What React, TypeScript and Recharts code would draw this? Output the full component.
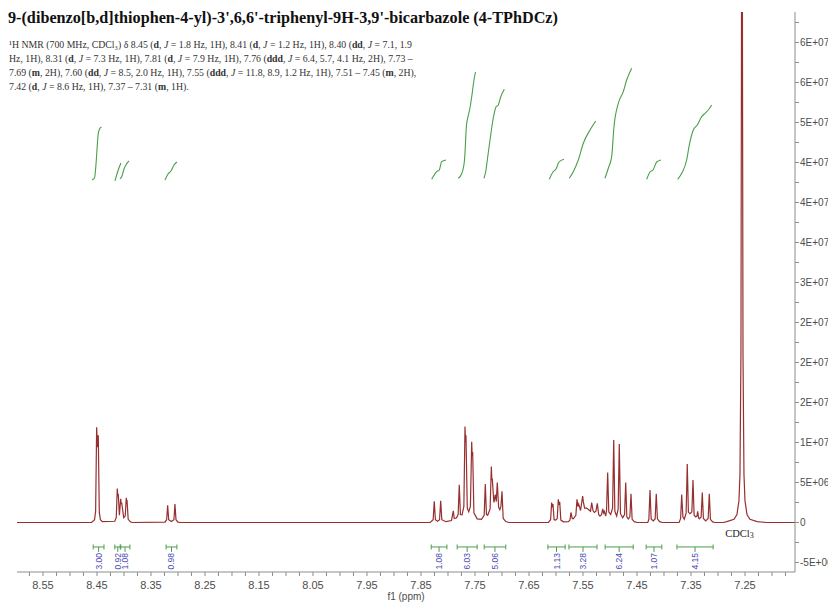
import React from 'react';
import { LineChart, Line, XAxis, YAxis, ReferenceLine, ReferenceDot } from 'recharts';

const TITLE = "9-(dibenzo[b,d]thiophen-4-yl)-3',6,6'-triphenyl-9H-3,9'-bicarbazole (4-TPhDCz)";

const NMR_LINES = [
  '¹H NMR (700 MHz, CDCl₃) δ 8.45 (d, J = 1.8 Hz, 1H), 8.41 (d, J = 1.2 Hz, 1H), 8.40 (dd, J = 7.1, 1.9',
  'Hz, 1H), 8.31 (d, J = 7.3 Hz, 1H), 7.81 (d, J = 7.9 Hz, 1H), 7.76 (ddd, J = 6.4, 5.7, 4.1 Hz, 2H), 7.73 –',
  '7.69 (m, 2H), 7.60 (dd, J = 8.5, 2.0 Hz, 1H), 7.55 (ddd, J = 11.8, 8.9, 1.2 Hz, 1H), 7.51 – 7.45 (m, 2H),',
  '7.42 (d, J = 8.6 Hz, 1H), 7.37 – 7.31 (m, 1H).',
];

const SPECTRUM: [number, number][] = [
  [8.5981, 0],
  [8.46, 0], [8.4545, 0.35e6], [8.4525, 1.4e6], [8.4506, 11.9e6], [8.4491, 9.4e6], [8.4476, 10.9e6],
  [8.4457, 1.3e6], [8.4437, 0.35e6], [8.44, 0.1e6],
  [8.417, 0.15e6], [8.4143, 0.6e6], [8.4124, 4.25e6], [8.4115, 3.3e6], [8.4106, 3.6e6], [8.4085, 0.9e6],
  [8.4061, 2.95e6], [8.4052, 2.3e6], [8.4043, 2.5e6], [8.4005, 0.6e6], [8.3977, 0.8e6], [8.3958, 3.1e6],
  [8.395, 2.5e6], [8.3942, 2.6e6], [8.3922, 0.4e6], [8.388, 0.08e6], [8.385, 0],
  [8.324, 0.05e6], [8.321, 0.35e6], [8.3191, 2.15e6], [8.3172, 0.35e6], [8.3124, 0.12e6], [8.3075, 0.35e6],
  [8.3056, 2.3e6], [8.3037, 0.35e6], [8.3, 0.05e6], [8.295, 0],
  [7.833, 0], [7.8275, 0.35e6], [7.8254, 2.65e6], [7.8233, 0.35e6], [7.8195, 0.15e6], [7.8156, 0.35e6],
  [7.8135, 2.7e6], [7.8114, 0.35e6], [7.804, 0.1e6], [7.7935, 0.25e6], [7.7902, 1.45e6], [7.7884, 0.5e6],
  [7.7845, 0.55e6], [7.7812, 1.0e6], [7.7791, 4.7e6], [7.777, 1.0e6], [7.774, 0.95e6], [7.7706, 2.0e6],
  [7.7685, 12.0e6], [7.7676, 10.0e6], [7.7667, 10.9e6], [7.7643, 1.8e6], [7.7615, 1.35e6], [7.7585, 2.0e6],
  [7.7561, 10.1e6], [7.7552, 8.3e6], [7.7543, 8.8e6], [7.752, 1.2e6], [7.746, 0.45e6], [7.738, 0.4e6],
  [7.733, 0.9e6], [7.7309, 4.8e6], [7.7288, 1.0e6], [7.7265, 0.9e6], [7.722, 1.7e6], [7.7197, 7.0e6],
  [7.7188, 5.3e6], [7.718, 5.5e6], [7.715, 2.5e6], [7.7124, 3.5e6], [7.7106, 2.6e6], [7.7087, 5.0e6],
  [7.7062, 1.9e6], [7.704, 1.6e6], [7.702, 2.0e6], [7.7, 3.9e6], [7.6978, 0.5e6], [7.693, 0.12e6], [7.687, 0],
  [7.614, 0], [7.61, 0.35e6], [7.608, 2.5e6], [7.6068, 1.9e6], [7.6056, 2.3e6], [7.6035, 0.35e6],
  [7.6005, 0.3e6], [7.5977, 0.5e6], [7.5957, 2.9e6], [7.5944, 2.2e6], [7.5931, 2.6e6], [7.591, 0.3e6],
  [7.586, 0.08e6], [7.577, 0.1e6], [7.5742, 0.3e6], [7.5722, 1.25e6], [7.57, 0.5e6], [7.568, 0.45e6],
  [7.5632, 0.9e6], [7.5611, 2.9e6], [7.5595, 2.0e6], [7.558, 2.3e6], [7.5545, 1.5e6], [7.5506, 3.3e6],
  [7.5494, 2.6e6], [7.547, 1.8e6], [7.5432, 1.8e6], [7.536, 1.4e6], [7.5339, 2.5e6], [7.5315, 1.5e6],
  [7.529, 1.25e6], [7.526, 1.4e6], [7.5235, 2.4e6], [7.521, 1.0e6], [7.5185, 0.8e6], [7.5155, 1.0e6],
  [7.5135, 1.7e6], [7.512, 1.2e6], [7.5106, 1.4e6], [7.508, 0.8e6], [7.5064, 1.5e6], [7.5043, 6.25e6],
  [7.5022, 1.3e6], [7.4987, 1.0e6], [7.4952, 1.8e6], [7.4931, 10.3e6], [7.491, 1.4e6], [7.4876, 0.8e6],
  [7.4849, 1.7e6], [7.4828, 9.8e6], [7.4806, 1.1e6], [7.4765, 0.6e6], [7.473, 1.0e6], [7.4709, 5.0e6],
  [7.4688, 0.7e6], [7.4661, 0.45e6], [7.4632, 0.7e6], [7.4611, 3.6e6], [7.459, 0.4e6], [7.455, 0.1e6], [7.45, 0],
  [7.43, 0], [7.428, 0.4e6], [7.4259, 4.05e6], [7.4238, 0.45e6], [7.4198, 0.2e6], [7.4164, 0.45e6],
  [7.4143, 3.6e6], [7.4122, 0.45e6], [7.408, 0.1e6], [7.403, 0],
  [7.372, 0], [7.3692, 0.5e6], [7.3672, 3.5e6], [7.3662, 2.2e6], [7.365, 0.7e6], [7.3624, 0.4e6],
  [7.359, 1.2e6], [7.3569, 7.3e6], [7.3548, 1.3e6], [7.3519, 1.1e6], [7.3484, 1.3e6], [7.3463, 5.3e6],
  [7.3442, 0.9e6], [7.3413, 0.7e6], [7.339, 0.8e6], [7.3376, 1.4e6], [7.336, 0.6e6], [7.3346, 0.45e6],
  [7.3312, 0.7e6], [7.3291, 3.75e6], [7.327, 0.5e6], [7.3228, 0.2e6], [7.3182, 0.5e6], [7.3161, 3.6e6],
  [7.314, 0.4e6], [7.31, 0.08e6], [7.305, 0],
  [7.29, 0], [7.2836, 0.1e6], [7.2704, 0.4e6], [7.2649, 1.0e6], [7.2612, 2.7e6], [7.2593, 6e6],
  [7.2575, 21e6], [7.2565, 60e6], [7.2556, 150e6], [7.2547, 60e6], [7.2537, 21e6], [7.2519, 6e6],
  [7.25, 2.7e6], [7.2463, 1.0e6], [7.2408, 0.4e6], [7.2276, 0.1e6], [7.21, 0],
  [7.1574, 0],
];

// Integration regions
const INTEGRAL_FROM = [8.457, 8.417, 8.407, 8.322, 7.831, 7.783, 7.733, 7.615, 7.576, 7.509, 7.433, 7.376];
const INTEGRAL_TO = [8.437, 8.406, 8.389, 8.302, 7.802, 7.746, 7.693, 7.583, 7.524, 7.457, 7.404, 7.309];
const INTEGRAL_LABELS = ['3.00', '0.92', '1.08', '0.98', '1.08', '6.03', '5.06', '1.13', '3.28', '6.24', '1.07', '4.15'];

// Integral curves [ppm, value]
const INTEGRAL_CURVES: [number, number][][] = [
  [[8.4593, 4.281e7], [8.4546, 4.306e7], [8.4519, 4.469e7], [8.45, 4.656e7], [8.4481, 4.831e7], [8.4454, 4.919e7], [8.4417, 4.944e7]],
  [[8.4167, 4.269e7], [8.413, 4.356e7], [8.4093, 4.431e7], [8.4056, 4.494e7]],
  [[8.4074, 4.294e7], [8.4037, 4.331e7], [8.4, 4.419e7], [8.3963, 4.469e7], [8.3907, 4.519e7]],
  [[8.3241, 4.281e7], [8.3185, 4.356e7], [8.313, 4.394e7], [8.3074, 4.469e7], [8.3019, 4.506e7]],
  [[7.8302, 4.29e7], [7.8209, 4.385e7], [7.8161, 4.406e7], [7.8117, 4.51e7], [7.8037, 4.531e7]],
  [[7.7809, 4.3025e7], [7.7741, 4.369e7], [7.7694, 4.531e7], [7.7657, 4.969e7], [7.763, 5.069e7], [7.7593, 5.181e7], [7.7556, 5.344e7], [7.7519, 5.531e7], [7.7491, 5.631e7]],
  [[7.7333, 4.3025e7], [7.7296, 4.406e7], [7.7272, 4.531e7], [7.7222, 4.781e7], [7.7161, 5.056e7], [7.7111, 5.194e7], [7.7069, 5.219e7], [7.7024, 5.319e7], [7.6957, 5.415e7]],
  [[7.6124, 4.29e7], [7.6056, 4.381e7], [7.6, 4.419e7], [7.5944, 4.506e7], [7.5852, 4.54e7]],
  [[7.5754, 4.3025e7], [7.568, 4.385e7], [7.5587, 4.531e7], [7.5494, 4.74e7], [7.537, 4.906e7], [7.5265, 5.019e7]],
  [[7.5093, 4.3025e7], [7.5031, 4.4275e7], [7.4969, 4.5725e7], [7.4926, 4.9475e7], [7.4846, 5.24e7], [7.4754, 5.385e7], [7.4691, 5.531e7], [7.4598, 5.6775e7]],
  [[7.432, 4.29e7], [7.4259, 4.381e7], [7.4204, 4.406e7], [7.4135, 4.506e7], [7.4056, 4.531e7]],
  [[7.3746, 4.29e7], [7.3672, 4.365e7], [7.358, 4.531e7], [7.3531, 4.719e7], [7.3457, 4.906e7], [7.3383, 4.969e7], [7.3302, 5.0725e7], [7.3241, 5.115e7], [7.318, 5.156e7], [7.3117, 5.219e7]],
];

const X_LABEL_VALUES = [8.55, 8.45, 8.35, 8.25, 8.15, 8.05, 7.95, 7.85, 7.75, 7.65, 7.55, 7.45, 7.35, 7.25];
const X_TICK_LABELS = ['8.55', '8.45', '8.35', '8.25', '8.15', '8.05', '7.95', '7.85', '7.75', '7.65', '7.55', '7.45', '7.35', '7.25'];
const Y_LABEL_VALUES = [-5e6, 0, 5e6, 1e7, 1.5e7, 2e7, 2.5e7, 3e7, 3.5e7, 4e7, 4.5e7, 5e7, 5.5e7, 6e7];
const Y_TICK_LABELS = ['-5E+06', '0', '5E+06', '1E+07', '2E+07', '2E+07', '2E+07', '3E+07', '4E+07', '4E+07', '4E+07', '5E+07', '6E+07', '6E+07'];

const X_DOMAIN: [number, number] = [7.1574, 8.5981];
const Y_DOMAIN: [number, number] = [-6.19e6, 6.381e7];

const X_ALL_TICKS: number[] = [];
for (let k = 0; k <= 56; k++) X_ALL_TICKS.push(Math.round((7.175 + 0.025 * k) * 1000) / 1000);
const Y_ALL_TICKS: number[] = [];
for (let k = 0; k <= 27; k++) Y_ALL_TICKS.push(-5e6 + 2.5e6 * k);

const BRACKET_LEVEL = -3.06e6;
const CDCL3_PPM = 7.2556;
const CDCL3_LABEL_LEVEL = -1.8e6;

const SANS = '"Liberation Sans", Arial, sans-serif';
const SERIF = '"Liberation Serif", "Times New Roman", serif';
const AXIS = '#8c8c8c';
const TICK_TEXT = '#4d4d4d';
const SPEC_COLOR = '#962f2f';
const INT_COLOR = '#4a9e4a';
const INT_TEXT = '#4a4ab4';

const spectrumData = SPECTRUM.map(([ppm, v]) => ({ ppm, v }));
const curveData = INTEGRAL_CURVES.map((c) => c.map(([ppm, v]) => ({ ppm, v })));

const XTick = (props: any) => {
  const { x, y, payload } = props;
  const i = X_LABEL_VALUES.findIndex((t) => Math.abs(t - payload.value) < 1e-6);
  if (i < 0) return <g />;
  return (
    <text x={x} y={y + 11} textAnchor="middle" fontSize={11} fill={TICK_TEXT} fontFamily={SANS}>
      {X_TICK_LABELS[i]}
    </text>
  );
};

const YTick = (props: any) => {
  const { x, y, payload } = props;
  const i = Y_LABEL_VALUES.findIndex((t) => Math.abs(t - payload.value) < 1);
  if (i < 0) return <g />;
  return (
    <text x={x} y={y} dy="0.35em" textAnchor="start" fontSize={10} fill={TICK_TEXT} fontFamily={SANS}>
      {Y_TICK_LABELS[i]}
    </text>
  );
};

const renderNmrLine = (line: string) => {
  const parts = line.split(/(J|\((?:ddd|dd|d|m),)/);
  return parts.map((p, idx) => {
    if (p === 'J') return <i key={idx}>J</i>;
    const m = p.match(/^\((ddd|dd|d|m),$/);
    if (m) return <span key={idx}>(<b>{m[1]}</b>,</span>;
    return <span key={idx}>{p}</span>;
  });
};

const W = 828;
const H = 596;

export default function App() {
  return (
    <div style={{ position: 'relative', width: W, height: H }}>
      <LineChart width={W} height={H} margin={{ top: 4, right: 0, bottom: 0, left: 9 }}>
        <XAxis
          type="number"
          dataKey="ppm"
          domain={X_DOMAIN}
          reversed
          allowDataOverflow
          ticks={X_ALL_TICKS}
          interval={0}
          tick={(p: any) => <XTick {...p} />}
          tickSize={4}
          tickMargin={2}
          height={32}
          stroke={AXIS}
          label={{ value: 'f1 (ppm)', position: 'insideBottom', offset: 4, fontSize: 10, fill: TICK_TEXT, fontFamily: SANS }}
        />
        <YAxis
          orientation="right"
          type="number"
          domain={Y_DOMAIN}
          allowDataOverflow
          ticks={Y_ALL_TICKS}
          interval={0}
          tick={(p: any) => <YTick {...p} />}
          tickSize={4}
          tickMargin={1}
          width={41}
          stroke={AXIS}
        />
        <Line
          data={spectrumData}
          dataKey="v"
          type="linear"
          stroke={SPEC_COLOR}
          strokeWidth={1.2}
          dot={false}
          isAnimationActive={false}
        />
        {curveData.map((d, i) => (
          <Line
            key={'c' + i}
            data={d}
            dataKey="v"
            type="monotone"
            stroke={INT_COLOR}
            strokeWidth={1.1}
            dot={false}
            isAnimationActive={false}
          />
        ))}
        {INTEGRAL_FROM.map((f, i) => (
          <ReferenceLine
            key={'b' + i}
            segment={[{ x: f, y: BRACKET_LEVEL }, { x: INTEGRAL_TO[i], y: BRACKET_LEVEL }]}
            stroke={INT_COLOR}
            strokeWidth={1}
          />
        ))}
        {INTEGRAL_FROM.flatMap((f, i) => [f, INTEGRAL_TO[i]]).map((px, i) => (
          <ReferenceDot
            key={'e' + i}
            x={px}
            y={BRACKET_LEVEL}
            r={1}
            shape={(p: any) => (
              <line x1={p.cx} x2={p.cx} y1={p.cy - 2.5} y2={p.cy + 2.5} stroke={INT_COLOR} strokeWidth={1} />
            )}
          />
        ))}
        {INTEGRAL_FROM.map((f, i) => (
          <ReferenceDot
            key={'l' + i}
            x={(f + INTEGRAL_TO[i]) / 2}
            y={BRACKET_LEVEL}
            r={1}
            shape={(p: any) => (
              <g>
                <line x1={p.cx} x2={p.cx} y1={p.cy} y2={p.cy + 5} stroke={INT_COLOR} strokeWidth={1} />
                <text
                  x={p.cx}
                  y={p.cy + 6}
                  transform={`rotate(-90 ${p.cx} ${p.cy + 6})`}
                  textAnchor="end"
                  dominantBaseline="central"
                  fontSize={8.5}
                  fill={INT_TEXT}
                  fontFamily={SANS}
                >
                  {INTEGRAL_LABELS[i]}
                </text>
              </g>
            )}
          />
        ))}
        <ReferenceDot
          x={CDCL3_PPM}
          y={CDCL3_LABEL_LEVEL}
          r={1}
          shape={(p: any) => (
            <text x={p.cx - 2.5} y={p.cy} textAnchor="middle" fontSize={10.5} fill="#222" fontFamily={SERIF}>
              CDCl
              <tspan fontSize={8} dy={1}>3</tspan>
            </text>
          )}
        />
      </LineChart>
      <div
        style={{
          position: 'absolute',
          left: 0,
          top: 1,
          fontFamily: SERIF,
          fontWeight: 'bold',
          fontSize: 16.2,
          lineHeight: '18px',
          color: '#111',
          whiteSpace: 'nowrap',
        }}
      >
        {TITLE}
      </div>
      <div
        style={{
          position: 'absolute',
          left: 1,
          top: 30,
          fontFamily: SERIF,
          fontSize: 9.8,
          lineHeight: '14px',
          color: '#333',
          whiteSpace: 'nowrap',
        }}
      >
        {NMR_LINES.map((l, i) => (
          <div key={i}>{renderNmrLine(l)}</div>
        ))}
      </div>
    </div>
  );
}
